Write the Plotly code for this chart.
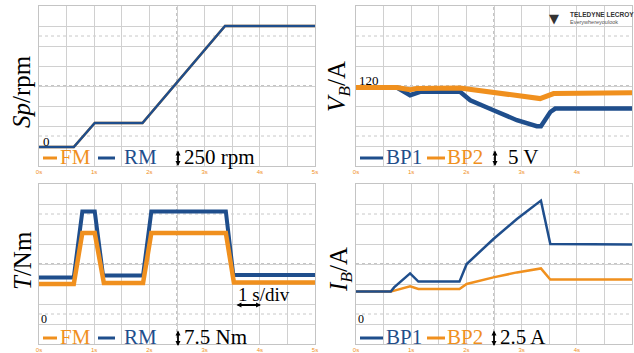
import plotly.graph_objects as go

W, H = 634, 353
BLUE = "#1F4E8C"
ORANGE = "#F0901E"
SERIF = "Liberation Serif"

# ---- data (x in divisions of 1 s, y in divisions) ----
sp_x = [0, 1.26, 2.02, 3.75, 6.74, 10]
sp_rm = [0.95, 0.95, 2.15, 2.15, 7.0, 7.0]
sp_fm = [0.95, 0.95, 2.15, 2.15, 7.0, 7.0]

vb1_x = [0, 1.48, 1.96, 2.32, 3.77, 4.14, 4.98, 5.83, 6.55, 6.70, 7.04, 7.22, 10]
vb1_y = [3.92, 3.92, 3.54, 3.71, 3.71, 3.29, 2.79, 2.29, 1.99, 1.99, 2.70, 2.87, 2.87]
vb2_x = [0, 1.48, 1.96, 2.20, 3.77, 4.98, 5.83, 6.67, 7.16, 10]
vb2_y = [3.92, 3.92, 3.82, 3.87, 3.90, 3.70, 3.55, 3.37, 3.62, 3.66]

t_rm_x = [0, 1.26, 1.57, 2.02, 2.32, 3.77, 4.07, 6.77, 7.04, 10]
t_rm_y = [3.33, 3.33, 6.62, 6.62, 3.42, 3.42, 6.62, 6.62, 3.45, 3.45]
t_fm_x = [0, 1.26, 1.57, 2.02, 2.35, 3.77, 4.07, 6.77, 7.06, 10]
t_fm_y = [3.0, 3.0, 5.55, 5.55, 3.05, 3.05, 5.55, 5.55, 3.08, 3.08]

ib1_x = [0, 1.26, 1.38, 1.96, 2.26, 3.75, 4.01, 4.98, 5.83, 6.70, 7.04, 10]
ib1_y = [2.62, 2.62, 2.83, 3.53, 3.12, 3.12, 4.0, 5.25, 6.25, 7.17, 5.0, 4.97]
ib2_x = [0, 1.26, 1.96, 2.26, 3.75, 4.01, 4.98, 5.83, 6.70, 7.04, 10]
ib2_y = [2.62, 2.62, 2.88, 2.75, 2.75, 3.0, 3.33, 3.58, 3.78, 3.22, 3.22]

tick_vals = [0, 2, 4, 6, 8, 10]
tick_text = ["0s", "1s", "2s", "3s", "4s", "5s"]

def px(x):
    return x / W

def py(y):
    return 1 - y / H

panels = {
    1: ([px(39), px(315)], [py(166), py(6)]),
    2: ([px(356), px(632)], [py(166), py(6)]),
    3: ([px(39), px(315)], [py(344), py(184)]),
    4: ([px(356), px(632)], [py(344), py(184)]),
}

fig = go.Figure()

traces = {
    1: [(sp_x, sp_fm, ORANGE, 2.5), (sp_x, sp_rm, BLUE, 2.5)],
    2: [(vb1_x, vb1_y, BLUE, 4.5), (vb2_x, vb2_y, ORANGE, 5)],
    3: [(t_rm_x, t_rm_y, BLUE, 4), (t_fm_x, t_fm_y, ORANGE, 4.5)],
    4: [(ib2_x, ib2_y, ORANGE, 2.5), (ib1_x, ib1_y, BLUE, 2.5)],
}

layout = dict(
    width=W, height=H, margin=dict(l=0, r=0, t=0, b=0, autoexpand=False),
    paper_bgcolor="white", plot_bgcolor="white", showlegend=False,
)
shapes = []
GRID = "#D0D0D0"
for i, (dx, dy) in panels.items():
    sx = "" if i == 1 else str(i)
    layout["xaxis" + sx] = dict(
        domain=dx, range=[0, 10], anchor="y" + sx, showgrid=True,
        gridcolor=GRID, gridwidth=1, showline=True, mirror=True, linecolor="#C4C4C4",
        zeroline=False, tickmode="array", tickvals=tick_vals, ticktext=tick_text,
        tickfont=dict(size=6, color=ORANGE, family="Liberation Sans"), ticks="",
        ticklabelstandoff=0, fixedrange=True,
        minor=dict(dtick=1, tick0=0, showgrid=True, gridcolor=GRID, gridwidth=1),
    )
    layout["yaxis" + sx] = dict(
        domain=dy, range=[0, 8], anchor="x" + sx, showgrid=True, dtick=1, tick0=0,
        gridcolor=GRID, gridwidth=1, showline=True, mirror=True, linecolor="#C4C4C4",
        zeroline=False, showticklabels=False, ticks="", fixedrange=True,
    )
    xr, yr = "x" + sx, "y" + sx
    shapes.append(dict(type="line", xref=xr, yref=yr, x0=5, x1=5, y0=0, y1=8,
                       line=dict(color="#8A8A8A", width=1, dash="dot"), layer="below"))
    shapes.append(dict(type="line", xref=xr, yref=yr, x0=0, x1=10, y0=4, y1=4,
                       line=dict(color="#8A8A8A", width=1, dash="dot"), layer="below"))
    for yy in (1.5, 6.5):
        shapes.append(dict(type="line", xref=xr, yref=yr, x0=0, x1=10, y0=yy, y1=yy,
                           line=dict(color="#C8C8C8", width=1, dash="dot"), layer="below"))
    for xs, ys, c, w in traces[i]:
        fig.add_trace(go.Scatter(x=xs, y=ys, mode="lines", line=dict(color=c, width=w),
                                 xaxis=xr, yaxis=yr, hoverinfo="skip"))

ann = []

def text(x, y, t, size=21, color="black", xanchor="left", angle=0, family=SERIF):
    ann.append(dict(x=px(x), y=py(y), xref="paper", yref="paper", text=t, showarrow=False,
                    xanchor=xanchor, yanchor="middle", textangle=angle,
                    font=dict(family=family, size=size, color=color)))

def darrow(x0, y0, x1, y1):
    ann.append(dict(x=px(x1), y=py(y1), ax=x0 - x1, ay=y0 - y1, xref="paper", yref="paper",
                    axref="pixel", ayref="pixel", text="", showarrow=True,
                    arrowside="end+start", arrowhead=2, startarrowhead=2,
                    arrowsize=0.55, startarrowsize=0.55, arrowwidth=1.8, arrowcolor="black"))

def dash(x0, x1, y, color):
    shapes.append(dict(type="line", xref="paper", yref="paper", x0=px(x0), x1=px(x1),
                       y0=py(y), y1=py(y), line=dict(color=color, width=3)))

# axis titles
text(22, 92, "<i>Sp</i>/rpm", size=25, xanchor="center", angle=-90)
text(338, 87, "<i>V<sub>B</sub></i>/A", size=25, xanchor="center", angle=-90)
text(22, 261, "<i>T</i>/Nm", size=25, xanchor="center", angle=-90)
text(340, 270, "<i>I<sub>B</sub></i>/A", size=25, xanchor="center", angle=-90)

# zero/level labels
text(41, 141, "0", size=13)
text(357, 81, "120", size=13)
text(39, 319, "0", size=12)
text(356, 319, "0", size=12)

# in-panel legends
for yc in (157, 337):
    dash(43, 57, yc + 1, ORANGE)
    text(58, yc, "FM", color=ORANGE)
    dash(98, 115, yc + 1, BLUE)
    text(122, yc, "RM", color=BLUE)
    darrow(178, yc - 8, 178, yc + 9)
    dash(360, 383, yc + 1, BLUE)
    text(384, yc, "BP1", color=BLUE)
    dash(427, 445, yc + 1, ORANGE)
    text(445, yc, "BP2", color=ORANGE)

text(182, 157, "250 rpm")
darrow(495, 149, 495, 166)
text(506, 157, "5 V")
text(182, 337, "7.5 Nm")
darrow(494, 329, 494, 346)
text(498, 337, "2.5 A")

# time scale
text(236, 294, "1 s/div", size=19)
darrow(235, 305, 261, 305)

# scope logo
text(554, 19, "▼", size=13, color="#333333", xanchor="center", family="DejaVu Sans")
text(568, 15, "<b>TELEDYNE LECROY</b>", size=6.5, color="#333333", family="Liberation Sans")
text(568, 22, "Everywhereyoulook", size=5.5, color="#555555", family="Liberation Sans")

layout["shapes"] = shapes
layout["annotations"] = ann
fig.update_layout(**layout)
fig.write_html("out.html", config={"displayModeBar": False},
               post_script="document.body.style.margin='0';")
